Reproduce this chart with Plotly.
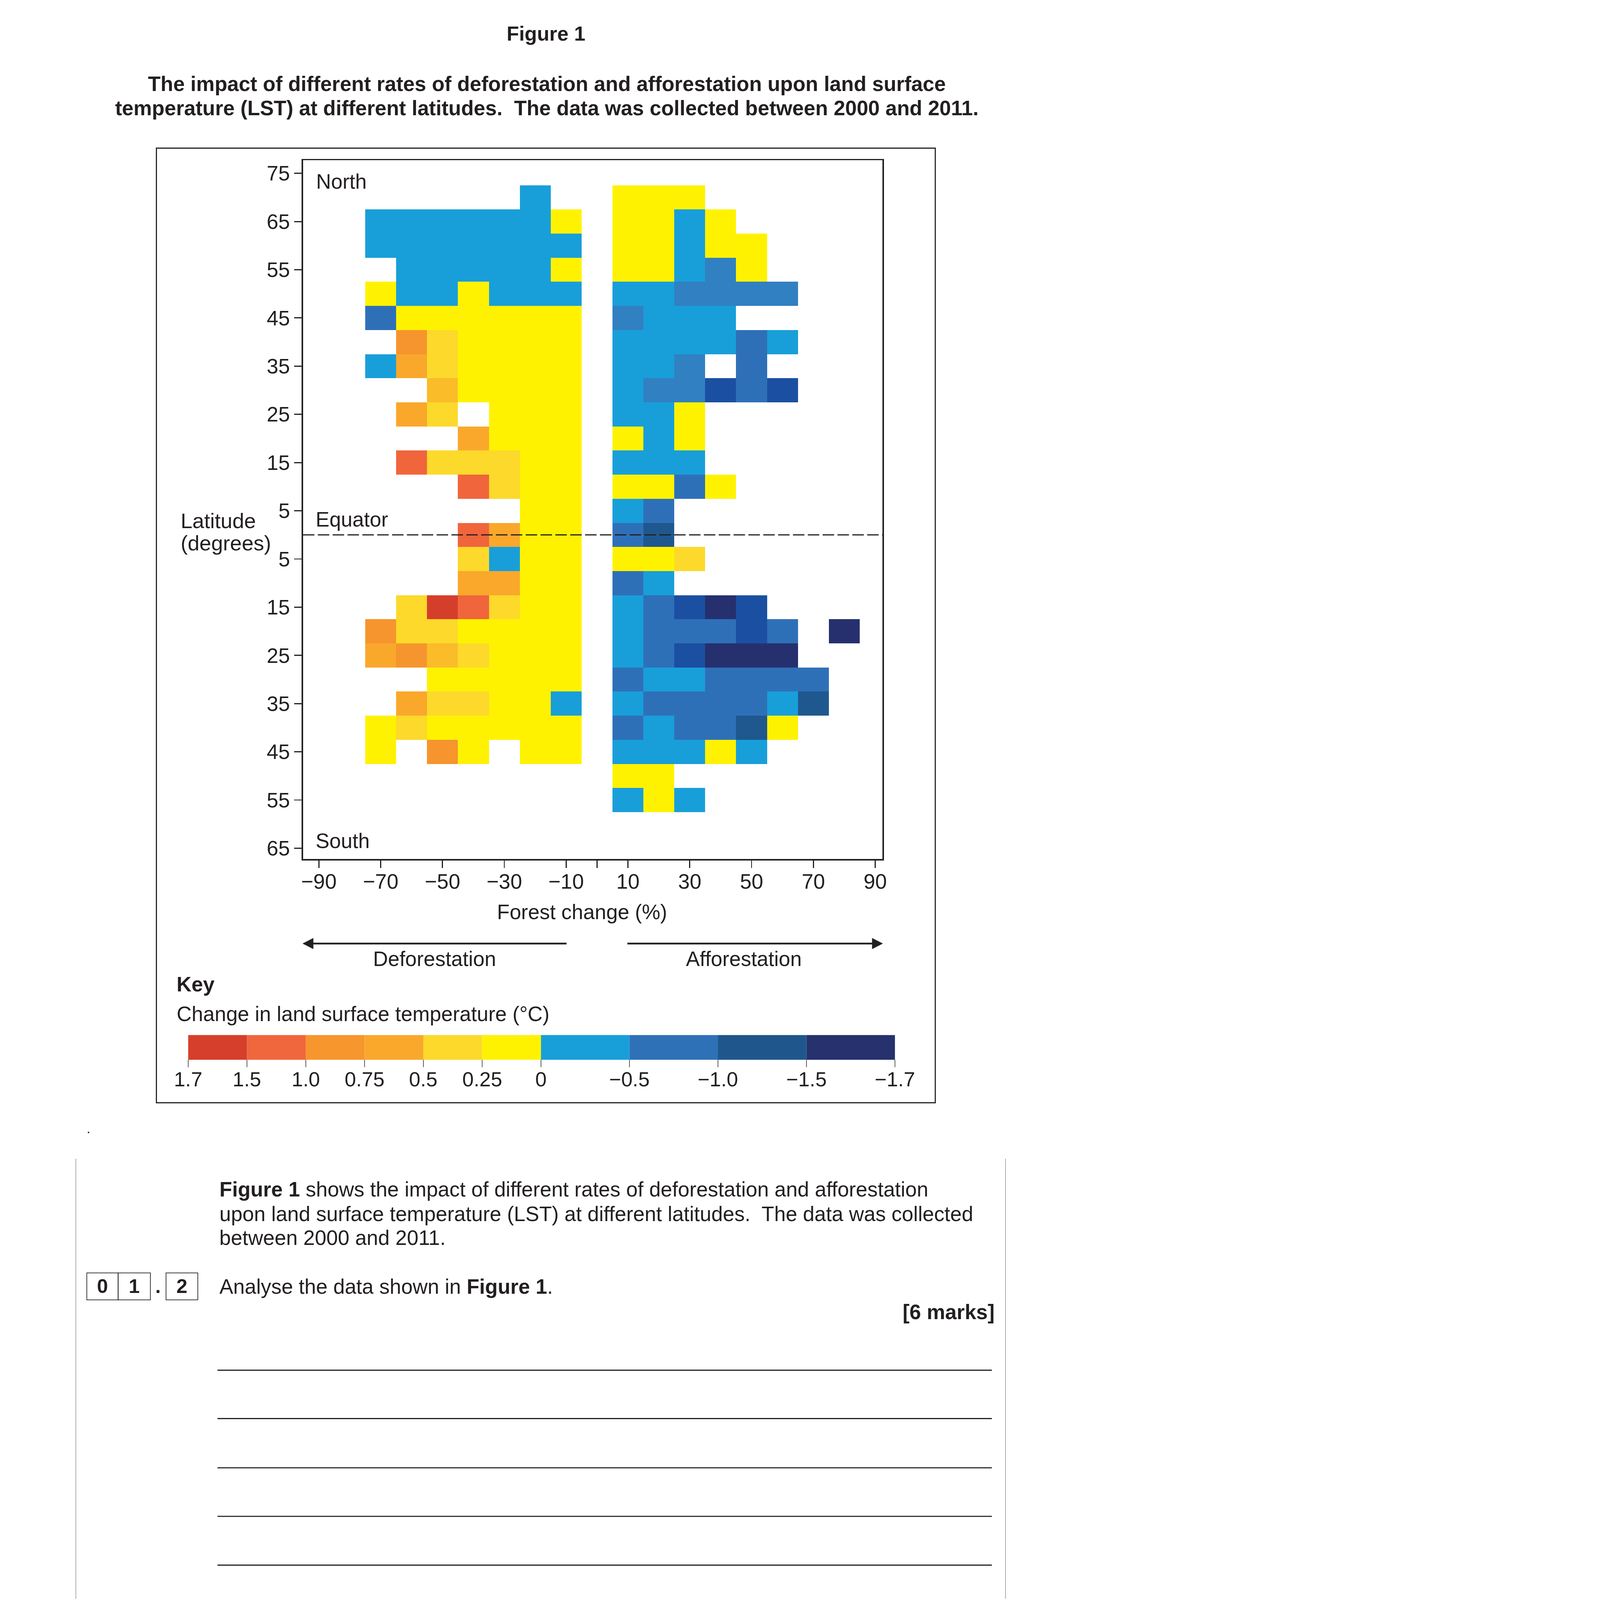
import plotly.graph_objects as go

W, H = 4961, 7112
FONT = "Liberation Sans"
INK = "#231f20"

# ---------------- data ----------------
latitudes = [70, 65, 60, 55, 50, 45, 40, 35, 30, 25, 20, 15, 10, 5, 0,
             -5, -10, -15, -20, -25, -30, -35, -40, -45, -50, -55]
defor_x = [-70, -60, -50, -40, -30, -20, -10]
affor_x = [10, 20, 30, 40, 50, 60, 70, 80]
N = None

# change in land surface temperature (deg C), deforestation side
defor_lst = [
    [N, N, N, N, N, -0.25, N],
    [-0.25, -0.25, -0.25, -0.25, -0.25, -0.25, 0.1],
    [-0.25, -0.25, -0.25, -0.25, -0.25, -0.25, -0.25],
    [N, -0.25, -0.25, -0.25, -0.25, -0.25, 0.1],
    [0.1, -0.25, -0.25, 0.1, -0.25, -0.25, -0.25],
    [-0.8, 0.1, 0.1, 0.1, 0.1, 0.1, 0.1],
    [N, 0.9, 0.4, 0.1, 0.1, 0.1, 0.1],
    [-0.25, 0.65, 0.4, 0.1, 0.1, 0.1, 0.1],
    [N, N, 0.55, 0.1, 0.1, 0.1, 0.1],
    [N, 0.65, 0.4, N, 0.1, 0.1, 0.1],
    [N, N, N, 0.65, 0.1, 0.1, 0.1],
    [N, 1.25, 0.4, 0.4, 0.4, 0.1, 0.1],
    [N, N, N, 1.25, 0.4, 0.1, 0.1],
    [N, N, N, N, N, 0.1, 0.1],
    [N, N, N, 1.25, 0.65, 0.1, 0.1],
    [N, N, N, 0.4, -0.25, 0.1, 0.1],
    [N, N, N, 0.65, 0.65, 0.1, 0.1],
    [N, 0.4, 1.6, 1.25, 0.4, 0.1, 0.1],
    [0.9, 0.4, 0.4, 0.1, 0.1, 0.1, 0.1],
    [0.65, 0.9, 0.55, 0.4, 0.1, 0.1, 0.1],
    [N, N, 0.1, 0.1, 0.1, 0.1, 0.1],
    [N, 0.65, 0.4, 0.4, 0.1, 0.1, -0.25],
    [0.1, 0.4, 0.1, 0.1, 0.1, 0.1, 0.1],
    [0.1, N, 0.9, 0.1, N, 0.1, 0.1],
    [N, N, N, N, N, N, N],
    [N, N, N, N, N, N, N],
]

# afforestation side
affor_lst = [
    [0.1, 0.1, 0.1, N, N, N, N, N],
    [0.1, 0.1, -0.25, 0.1, N, N, N, N],
    [0.1, 0.1, -0.25, 0.1, 0.1, N, N, N],
    [0.1, 0.1, -0.25, -0.6, 0.1, N, N, N],
    [-0.25, -0.25, -0.6, -0.6, -0.6, -0.6, N, N],
    [-0.6, -0.25, -0.25, -0.25, N, N, N, N],
    [-0.25, -0.25, -0.25, -0.25, -0.8, -0.25, N, N],
    [-0.25, -0.25, -0.6, N, -0.8, N, N, N],
    [-0.25, -0.6, -0.6, -1.1, -0.8, -1.1, N, N],
    [-0.25, -0.25, 0.1, N, N, N, N, N],
    [0.1, -0.25, 0.1, N, N, N, N, N],
    [-0.25, -0.25, -0.25, N, N, N, N, N],
    [0.1, 0.1, -0.8, 0.1, N, N, N, N],
    [-0.25, -0.8, N, N, N, N, N, N],
    [-0.8, -1.35, N, N, N, N, N, N],
    [0.1, 0.1, 0.4, N, N, N, N, N],
    [-0.8, -0.25, N, N, N, N, N, N],
    [-0.25, -0.8, -1.1, -1.6, -1.1, N, N, N],
    [-0.25, -0.8, -0.8, -0.8, -1.1, -0.8, N, -1.6],
    [-0.25, -0.8, -1.1, -1.6, -1.6, -1.6, N, N],
    [-0.8, -0.25, -0.25, -0.8, -0.8, -0.8, -0.8, N],
    [-0.25, -0.8, -0.8, -0.8, -0.8, -0.25, -1.35, N],
    [-0.8, -0.25, -0.8, -0.8, -1.35, 0.1, N, N],
    [-0.25, -0.25, -0.25, 0.1, -0.25, N, N, N],
    [0.1, 0.1, N, N, N, N, N, N],
    [-0.25, 0.1, -0.25, N, N, N, N, N],
]

x_tickvals = [-90, -70, -50, -30, -10, 0, 10, 30, 50, 70, 90]
x_ticktext = ["\u221290", "\u221270", "\u221250", "\u221230", "\u221210", "",
              "10", "30", "50", "70", "90"]
y_tickvals = [75, 65, 55, 45, 35, 25, 15, 5, -5, -15, -25, -35, -45, -55, -65]
y_ticktext = [str(abs(v)) for v in y_tickvals]

key_labels = ["1.7", "1.5", "1.0", "0.75", "0.5", "0.25", "0",
              "\u22120.5", "\u22121.0", "\u22121.5", "\u22121.7"]
key_colors = ["#d63f2b", "#f0663d", "#f6962d", "#f9a82c", "#fcd92a", "#fff200",
              "#189fd9", "#2e71b7", "#1f578d", "#26316e"]

# ---------------- colour mapping for the cells ----------------
ZMIN, ZMAX = -1.7, 1.7
bins = [(-1.7, -1.5, "#26306e"), (-1.5, -1.25, "#1f588f"), (-1.25, -1.0, "#1b4fa2"),
        (-1.0, -0.7, "#2e70b8"), (-0.7, -0.5, "#3180c2"), (-0.5, 0.0, "#189fd9"),
        (0.0, 0.25, "#fff200"), (0.25, 0.5, "#fcd92b"), (0.5, 0.6, "#fbbc29"),
        (0.6, 0.75, "#f9a82c"), (0.75, 1.0, "#f6952d"), (1.0, 1.5, "#f0653c"),
        (1.5, 1.7, "#d63e2c")]
cscale = []
for lo, hi, c in bins:
    cscale.append([(lo - ZMIN) / (ZMAX - ZMIN), c])
    cscale.append([(hi - ZMIN) / (ZMAX - ZMIN), c])
cscale[0][0] = 0.0
cscale[-1][0] = 1.0


def px(x):
    return x / W


def py(y):
    return 1 - y / H


fig = go.Figure()
for xs, zs in ((defor_x, defor_lst), (affor_x, affor_lst)):
    fig.add_trace(go.Heatmap(x=xs, y=latitudes, z=zs, zmin=ZMIN, zmax=ZMAX,
                             colorscale=cscale, showscale=False, hoverinfo="skip"))

annotations = []
shapes = []


def txt(text, x, y, size, bold=False, anchor="left"):
    if bold:
        text = "<b>" + text + "</b>"
    annotations.append(dict(text=text, x=px(x), y=py(y), xref="paper", yref="paper",
                            xanchor=anchor, yanchor="middle", showarrow=False,
                            font=dict(family=FONT, size=size, color=INK)))


def line(x0, y0, x1, y1, w, color=INK):
    shapes.append(dict(type="line", xref="paper", yref="paper", x0=px(x0), y0=py(y0),
                       x1=px(x1), y1=py(y1), line=dict(color=color, width=w)))


def rect(x0, y0, x1, y1, w, fill=None, color=INK):
    d = dict(type="rect", xref="paper", yref="paper", x0=px(x0), y0=py(y0),
             x1=px(x1), y1=py(y1), line=dict(color=color, width=w))
    if fill:
        d["fillcolor"] = fill
        d["line"] = dict(width=0)
    shapes.append(d)


def tri(xt, xb, yc, h):
    path = "M {} {} L {} {} L {} {} Z".format(px(xt), py(yc), px(xb), py(yc - h),
                                              px(xb), py(yc + h))
    shapes.append(dict(type="path", xref="paper", yref="paper", path=path,
                       fillcolor=INK, line=dict(color=INK, width=1)))


# titles
txt("Figure 1", 2432, 150, 90, bold=True, anchor="center")
txt("The impact of different rates of deforestation and afforestation upon land surface",
    2436, 372, 92, bold=True, anchor="center")
txt("temperature (LST) at different latitudes.\u00a0 The data was collected between 2000 and 2011.",
    2436, 480, 92, bold=True, anchor="center")

# outer frame of figure
rect(691, 659, 4172, 4905, 5)

# equator dashed line
shapes.append(dict(type="line", xref="x domain", yref="y", x0=0, x1=1, y0=0, y1=0,
                   line=dict(color=INK, width=5, dash="51px,15px"), layer="above"))

# in-plot labels
txt("North", 1403, 808, 92)
txt("Equator", 1401, 2311, 92)
txt("South", 1401, 3741, 92)
txt("Latitude", 797, 2316, 94)
txt("(degrees)", 797, 2415, 94)
txt("Forest change (%)", 2594, 4057, 92, anchor="center")

# arrows
line(1385, 4197, 2524, 4197, 8)
tri(1345, 1392, 4197, 24)
line(2796, 4197, 3897, 4197, 8)
tri(3937, 3890, 4197, 24)
txt("Deforestation", 1934, 4265, 92, anchor="center")
txt("Afforestation", 3317, 4265, 92, anchor="center")

# key
txt("Key", 779, 4377, 92, bold=True)
txt("Change in land surface temperature (\u00b0C)", 779, 4510, 92)
kx0, warm_w, cold_w = 833, 262.8, 395.5
edges = [kx0]
for i in range(len(key_colors)):
    edges.append(edges[-1] + (warm_w if i < 6 else cold_w))
for i, c in enumerate(key_colors):
    rect(edges[i], 4604, edges[i + 1], 4714, 0, fill=c)
for i, lab in enumerate(key_labels):
    line(edges[i], 4714, edges[i], 4747, 2.5)
    txt(lab, edges[i], 4800, 91, anchor="center")

# lower part of the page
txt(".", 388, 5020, 60, anchor="center")
line(331, 5154, 331, 7112, 3, color="#a0a0a0")
line(4486, 5154, 4486, 7112, 3, color="#a0a0a0")
txt("<b>Figure 1</b> shows the impact of different rates of deforestation and afforestation",
    970, 5290, 92)
txt("upon land surface temperature (LST) at different latitudes.\u00a0 The data was collected",
    970, 5399, 92)
txt("between 2000 and 2011.", 970, 5505, 92)
rect(380, 5662, 520, 5782, 3)
rect(520, 5662, 664, 5782, 3)
rect(734, 5662, 876, 5782, 3)
txt("0", 450, 5722, 88, bold=True, anchor="center")
txt("1", 592, 5722, 88, bold=True, anchor="center")
txt(".", 698, 5722, 88, bold=True, anchor="center")
txt("2", 805, 5722, 88, bold=True, anchor="center")
txt("Analyse the data shown in <b>Figure 1</b>.", 970, 5723, 92)
txt("[6 marks]", 4439, 5836, 92, bold=True, anchor="right")
for yl in (6095, 6310, 6529, 6745, 6962):
    line(964, yl, 4425, yl, 5)

axis_common = dict(showgrid=False, zeroline=False, showline=True, mirror=True,
                   linecolor=INK, linewidth=6, ticks="outside", ticklen=33,
                   tickwidth=5, tickcolor=INK,
                   tickfont=dict(family=FONT, size=93, color=INK))

fig.update_layout(
    width=W, height=H,
    margin=dict(l=0, r=0, t=0, b=0),
    paper_bgcolor="white", plot_bgcolor="white",
    showlegend=False,
    annotations=annotations, shapes=shapes,
    xaxis=dict(domain=[1346 / W, 3936 / W], range=[-95.14, 92.35],
               tickmode="array", tickvals=x_tickvals, ticktext=x_ticktext,
               ticklabelstandoff=-18, **axis_common),
    yaxis=dict(domain=[1 - 3821 / H, 1 - 713 / H], range=[-67.24, 77.70],
               tickmode="array", tickvals=y_tickvals, ticktext=y_ticktext,
               **axis_common),
)

# fit the fixed-size page into whatever CSS viewport the browser reports
post = """
var gd = document.getElementById('{plot_id}');
document.documentElement.style.overflow = 'hidden';
document.body.style.margin = '0';
document.body.style.overflow = 'hidden';
var k = Math.min(window.innerWidth / %d, window.innerHeight / %d);
if (k > 0 && k < 1) {
  gd.style.transformOrigin = '0 0';
  gd.style.transform = 'scale(' + k + ')';
}
""" % (W, H)

fig.write_html("out.html", post_script=post, config={"displayModeBar": False})
